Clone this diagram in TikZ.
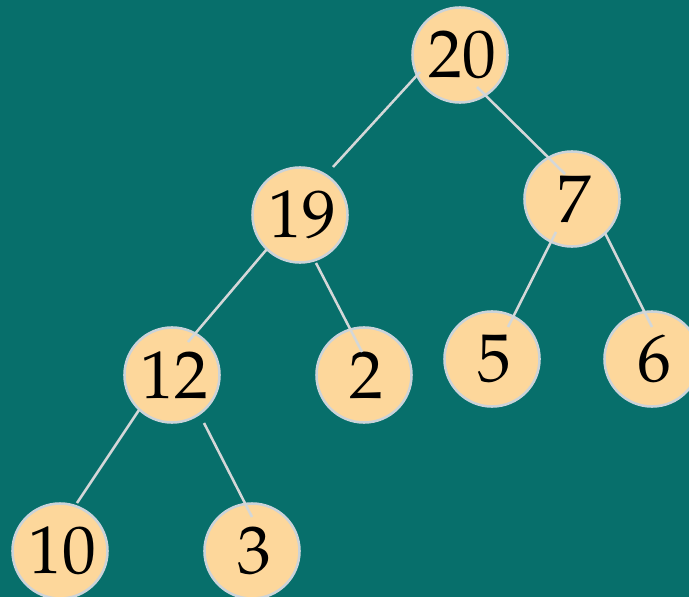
\documentclass[tikz,border=0pt]{standalone}
\usepackage[T1]{fontenc}
\usepackage{mathpazo}
\usepackage{tikz}
\usetikzlibrary{positioning,calc}
\definecolor{bgteal}{HTML}{076F6B}
\definecolor{keyfill}{HTML}{FDD79B}
\definecolor{keyrim}{HTML}{CBD3D9}
\definecolor{linkgray}{HTML}{D4D7D8}
\tikzset{
  key/.style={circle,draw=keyrim,line width=1.8pt,fill=keyfill,
              minimum size=2.375cm,inner sep=0pt,
              font=\fontsize{48}{56}\selectfont,text=black},
  link/.style={linkgray,line width=1.8pt},
}

\begin{document}
\begin{tikzpicture}[x=0.025cm,y=-0.025cm]
  \fill[bgteal] (0,0) rectangle (689,597);
  \useasboundingbox (0,0) rectangle (689,597);
  % the heap, row by row
  \node[key] (n20) at (460,55) {\hspace*{3pt}20};
  \node[key] (n19) at (300,215) {\hspace*{3pt}19};
  \node[key] (n7) at (572,199) {\hspace*{3pt}7};
  \node[key] (n12) at (172,375) {\hspace*{3pt}12};
  \node[key] (n2) at (364,375) {\hspace*{3pt}2};
  \node[key] (n5) at (492,359) {\hspace*{3pt}5};
  \node[key] (n6) at (652,359) {\hspace*{3pt}6};
  \node[key] (n10) at (60,551) {\hspace*{3pt}10};
  \node[key] (n3) at (252,551) {\hspace*{3pt}3};
  % links sit on top of the circles
  \draw[link] ([shift={(-40,17)}]n20.center) -- ([shift={(33,-48)}]n19.center);
  \draw[link] ([shift={(17,32)}]n20.center) -- ([shift={(-7,-25)}]n7.center);
  \draw[link] ([shift={(-33,34)}]n19.center) -- ([shift={(16,-33)}]n12.center);
  \draw[link] ([shift={(16,48)}]n19.center) -- ([shift={(-2,-23)}]n2.center);
  \draw[link] ([shift={(-16,33)}]n7.center) -- ([shift={(16,-32)}]n5.center);
  \draw[link] ([shift={(33,34)}]n7.center) -- ([shift={(0,-32)}]n6.center);
  \draw[link] ([shift={(-33,35)}]n12.center) -- ([shift={(17,-48)}]n10.center);
  \draw[link] ([shift={(32,48)}]n12.center) -- ([shift={(0,-34)}]n3.center);
\end{tikzpicture}
\end{document}
